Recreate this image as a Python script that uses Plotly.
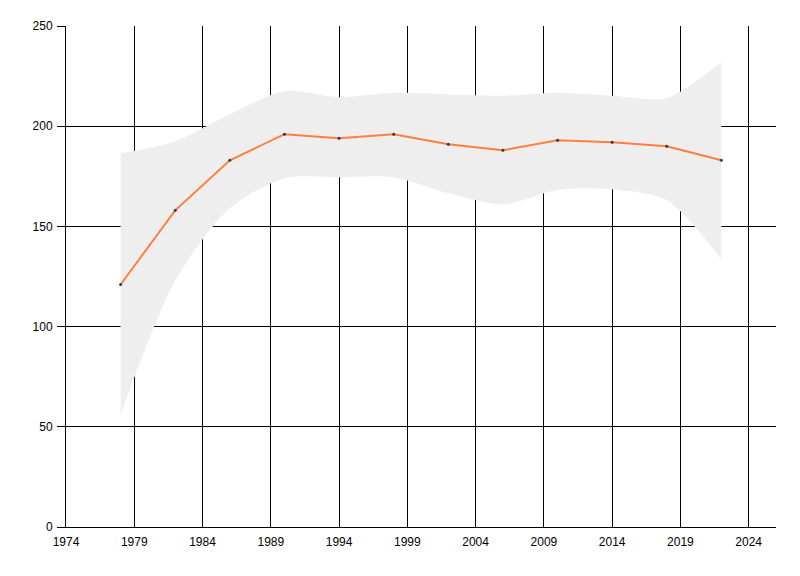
import plotly.graph_objects as go

years = [1978, 1982, 1986, 1990, 1994, 1998, 2002, 2006, 2010, 2014, 2018, 2022]
values = [121, 158, 183, 196, 194, 196, 191, 188, 193, 192, 190, 183]
upper = [186.5, 192.5, 206, 217.5, 214.5, 216.7, 216, 215.2, 216.7, 215.2, 214, 232]
lower = [56, 123, 159, 174, 174.5, 174.5, 166.5, 161, 168.2, 168.5, 163, 133.5]
x_ticks = [1974, 1979, 1984, 1989, 1994, 1999, 2004, 2009, 2014, 2019, 2024]
y_ticks = [0, 50, 100, 150, 200, 250]

fig = go.Figure()
fig.add_trace(go.Scatter(x=years, y=lower, mode="lines",
                         line=dict(width=0, shape="spline", smoothing=0.8, color="#EEEEEE"),
                         showlegend=False, hoverinfo="skip"))
fig.add_trace(go.Scatter(x=years, y=upper, mode="lines", fill="tonexty",
                         fillcolor="#EEEEEE",
                         line=dict(width=0, shape="spline", smoothing=0.8, color="#EEEEEE"),
                         showlegend=False, hoverinfo="skip"))
fig.add_trace(go.Scatter(x=years, y=values, mode="lines+markers",
                         line=dict(color="#FF7F3F", width=2),
                         marker=dict(color="#3A3A3A", size=3),
                         showlegend=False))

font = dict(family="Liberation Sans, Arial, sans-serif", size=12, color="#000000")
fig.update_layout(
    width=800, height=576,
    margin=dict(l=58, r=32, t=18, b=57, autoexpand=False),
    paper_bgcolor="white", plot_bgcolor="white",
    font=font,
    showlegend=False,
)
fig.update_xaxes(range=[1974, 2026], tickvals=x_ticks, ticktext=[str(t) for t in x_ticks],
                 showgrid=True, gridcolor="#000000", gridwidth=1,
                 showline=True, linecolor="#000000", linewidth=1,
                 ticks="", ticklabelstandoff=4, zeroline=False, layer="below traces",
                 automargin=False)
fig.update_yaxes(range=[0, 250], tickvals=y_ticks, ticktext=[str(t) for t in y_ticks],
                 showgrid=True, gridcolor="#000000", gridwidth=1,
                 showline=True, linecolor="#000000", linewidth=1,
                 ticks="outside", ticklen=8, tickcolor="#000000", tickwidth=1,
                 ticklabelstandoff=2, zeroline=False, layer="below traces",
                 automargin=False)

fig.write_html("out.html")
